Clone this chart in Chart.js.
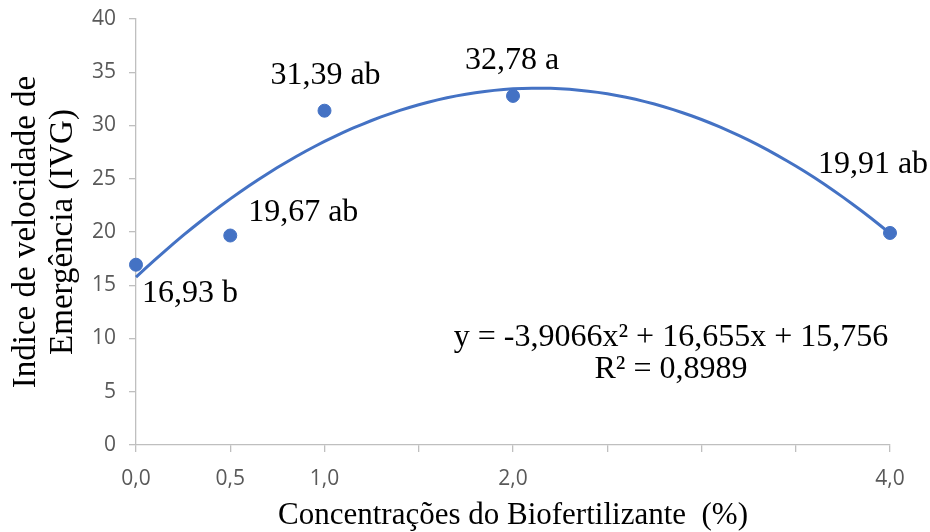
<!DOCTYPE html>
<html>
<head>
<meta charset="utf-8">
<script src="https://cdn.jsdelivr.net/npm/chart.js@4.4.1/dist/chart.umd.min.js"></script>
<style>
  html, body { margin: 0; padding: 0; background: #fff; }
  #wrap { width: 930px; height: 532px; }
</style>
</head>
<body>
<div id="wrap"><canvas id="myChart"></canvas></div>
<script>
const ctx = document.getElementById('myChart');

// concentracoes (%) e IVG medio
const conc = [0, 0.5, 1, 2, 4];
const ivg = [16.93, 19.67, 31.39, 32.78, 19.91];
const letras = ['b', 'ab', 'ab', 'a', 'ab'];
const xLabels = [0, 0.5, 1, 2, 4];

// linha de tendencia polinomial (Excel): a x^2 + b x + c
const trend = [-3.9066, 16.655, 15.756];
const r2 = '0,8989';

const azul = '#4472C4';
const serif = '"Liberation Serif", "Times New Roman", serif';

var curva = [];
for (let i = 0; i <= 80; i++) {
  let x = i * 0.05;
  curva.push({ x: x, y: trend[0] * x * x + trend[1] * x + trend[2] });
}

function virgula(v, d) {
  return v.toFixed(d).replace('.', ',');
}

// posicao dos rotulos em relacao ao ponto
const offs = [[54, 29], [73, -23], [1, -35], [-1, -35], [-17, -68]];

const rotulos = {
  id: 'rotulos',
  afterDatasetsDraw(chart) {
    const c = chart.ctx;
    const meta = chart.getDatasetMeta(1);
    c.save();
    c.font = '32px ' + serif;
    c.fillStyle = '#000';
    c.textAlign = 'center';
    c.textBaseline = 'middle';
    meta.data.forEach((p, i) => {
      c.fillText(virgula(ivg[i], 2) + ' ' + letras[i], p.x + offs[i][0], p.y + offs[i][1]);
    });
    // equacao
    const eq = 'y = ' + virgula(trend[0], 4) + 'x² + ' + virgula(trend[1], 3) + 'x + ' + virgula(trend[2], 3);
    c.fillText(eq, 671, 338);
    c.fillText('R² = ' + r2, 671, 370);
    c.restore();
  }
};

let cc = new Chart(ctx, {
  type: 'scatter',
  data: {
    datasets: [
      {
        label: 'tendencia',
        type: 'line',
        data: curva,
        borderColor: azul,
        borderWidth: 3,
        pointRadius: 0,
        fill: false,
        tension: 0,
        clip: false
      },
      {
        label: 'IVG',
        data: conc.map((x, i) => ({ x: x, y: ivg[i] })),
        backgroundColor: azul,
        borderColor: azul,
        borderWidth: 1,
        pointRadius: 6.5,
        clip: false
      }
    ]
  },
  options: {
    responsive: true,
    maintainAspectRatio: false,
    animation: false,
    layout: { padding: { top: 19, right: 40, left: 0, bottom: 0 } },
    plugins: {
      legend: { display: false },
      tooltip: { enabled: false }
    },
    scales: {
      x: {
        type: 'linear',
        min: 0,
        max: 4,
        afterFit: (s) => { s.height = 87; },
        border: { color: '#bfbfbf', width: 1.3 },
        grid: { drawOnChartArea: false, drawTicks: true, tickLength: 7, color: '#bfbfbf', lineWidth: 1.3 },
        ticks: {
          stepSize: 0.5,
          autoSkip: false,
          maxRotation: 0,
          padding: 14,
          color: '#595959',
          font: { family: 'Open Sans', size: 21 },
          callback: (v) => xLabels.includes(v) ? virgula(v, 1) : ''
        },
        title: {
          display: true,
          text: 'Concentrações do Biofertilizante  (%)',
          color: '#000',
          font: { family: serif, size: 31, lineHeight: 1.06 },
          padding: { top: 0, bottom: 0 }
        }
      },
      y: {
        min: 0,
        max: 40,
        afterFit: (s) => { s.width = 136; s.paddingTop = 0; s.paddingBottom = 0; },
        border: { color: '#bfbfbf', width: 1.3 },
        grid: { drawOnChartArea: false, drawTicks: true, tickLength: 7, color: '#bfbfbf', lineWidth: 1.3 },
        ticks: {
          stepSize: 5,
          padding: 13,
          color: '#595959',
          font: { family: 'Open Sans', size: 21 }
        },
        title: {
          display: true,
          text: ['Indice de velocidade de', 'Emergência (IVG)'],
          color: '#000',
          font: { family: serif, size: 33, lineHeight: 1.12 },
          padding: { top: 8, bottom: 0 }
        }
      }
    }
  },
  plugins: [rotulos]
});
</script>
</body>
</html>
